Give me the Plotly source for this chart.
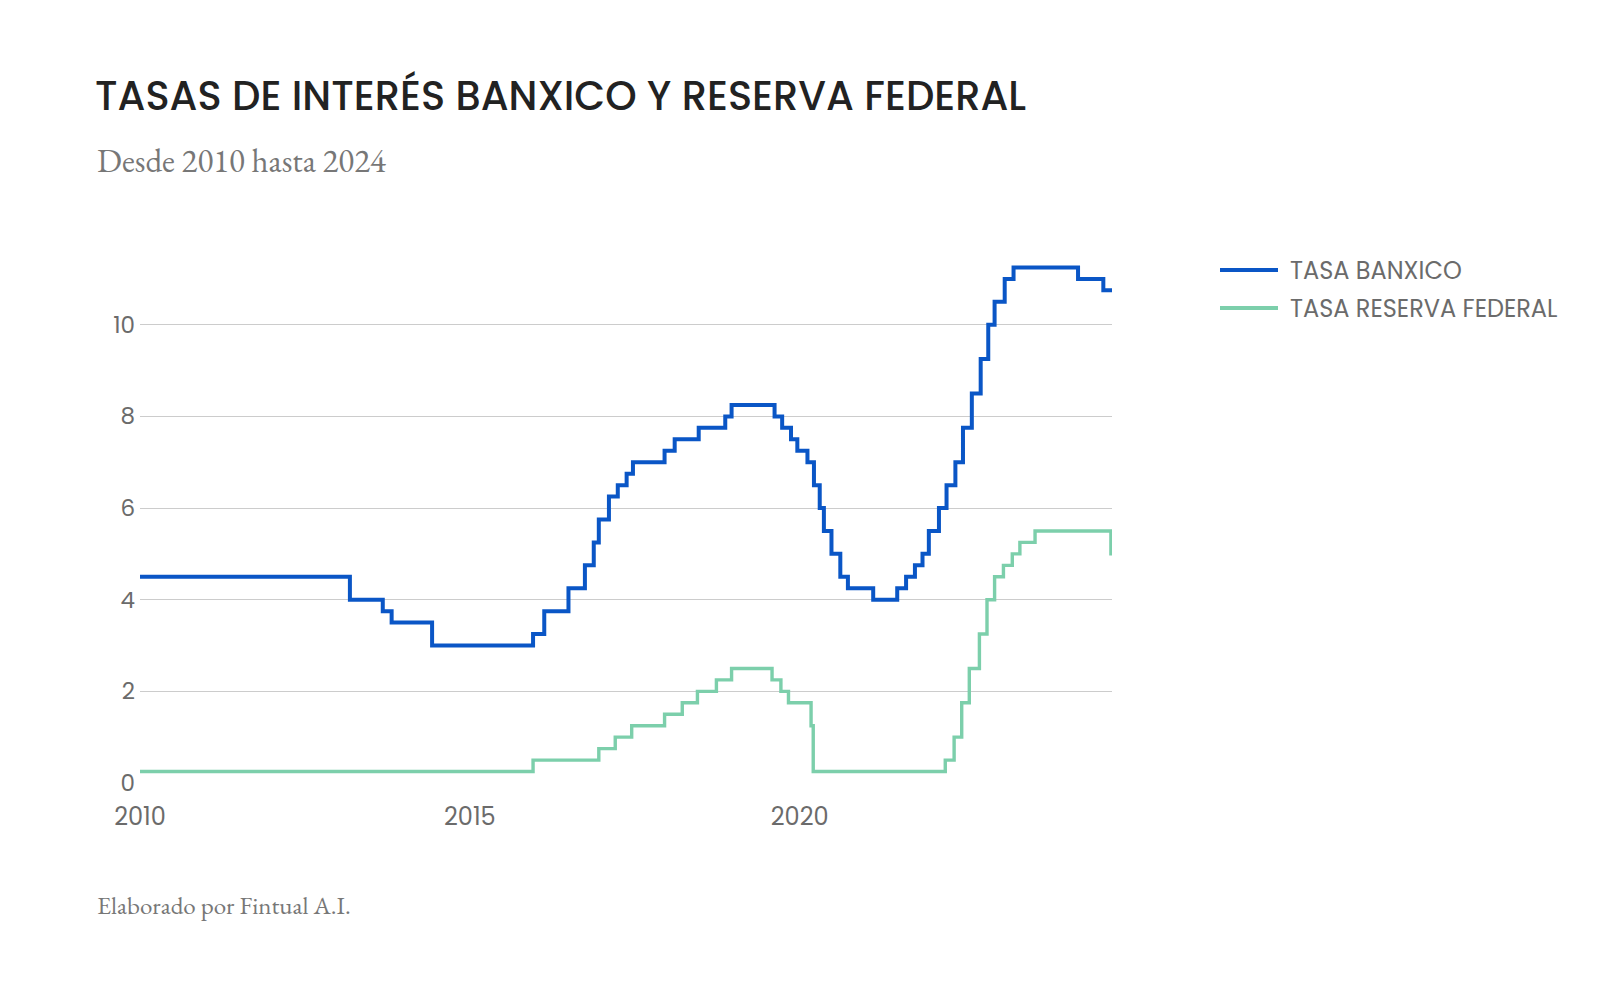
import plotly.graph_objects as go

# ---- data ----
banxico_dates = [
    "2010-01-01", "2013-03-08", "2013-09-06", "2013-10-25", "2014-06-06",
    "2015-12-17", "2016-02-17", "2016-06-30", "2016-09-29", "2016-11-17",
    "2016-12-15", "2017-02-09", "2017-03-30", "2017-05-18", "2017-06-22",
    "2017-12-14", "2018-02-08", "2018-06-21", "2018-11-15", "2018-12-20",
    "2019-08-15", "2019-09-26", "2019-11-14", "2019-12-19", "2020-02-13",
    "2020-03-20", "2020-04-21", "2020-05-14", "2020-06-25", "2020-08-13",
    "2020-09-24", "2021-02-11", "2021-06-24", "2021-08-12", "2021-09-30",
    "2021-11-11", "2021-12-16", "2022-02-10", "2022-03-24", "2022-05-12",
    "2022-06-23", "2022-08-11", "2022-09-29", "2022-11-10", "2022-12-15",
    "2023-02-09", "2023-03-30", "2024-03-21", "2024-08-08", "2024-09-25",
]
banxico_rate = [
    4.50, 4.00, 3.75, 3.50, 3.00,
    3.25, 3.75, 4.25, 4.75, 5.25,
    5.75, 6.25, 6.50, 6.75, 7.00,
    7.25, 7.50, 7.75, 8.00, 8.25,
    8.00, 7.75, 7.50, 7.25, 7.00,
    6.50, 6.00, 5.50, 5.00, 4.50,
    4.25, 4.00, 4.25, 4.50, 4.75,
    5.00, 5.50, 6.00, 6.50, 7.00,
    7.75, 8.50, 9.25, 10.00, 10.50,
    11.00, 11.25, 11.00, 10.75, 10.75,
]

fed_dates = [
    "2010-01-01", "2015-12-17", "2016-12-15", "2017-03-16", "2017-06-15",
    "2017-12-14", "2018-03-22", "2018-06-14", "2018-09-27", "2018-12-20",
    "2019-08-01", "2019-09-19", "2019-10-31", "2020-03-04", "2020-03-16",
    "2022-03-17", "2022-05-05", "2022-06-16", "2022-07-28", "2022-09-22",
    "2022-11-03", "2022-12-15", "2023-02-02", "2023-03-23", "2023-05-04",
    "2023-07-27", "2024-09-19", "2024-09-25",
]
fed_rate = [
    0.25, 0.50, 0.75, 1.00, 1.25,
    1.50, 1.75, 2.00, 2.25, 2.50,
    2.25, 2.00, 1.75, 1.25, 0.25,
    0.50, 1.00, 1.75, 2.50, 3.25,
    4.00, 4.50, 4.75, 5.00, 5.25,
    5.50, 5.00, 5.00,
]

series_names = ["TASA BANXICO", "TASA RESERVA FEDERAL"]
y_ticks = [0, 2, 4, 6, 8, 10]
x_tick_vals = ["2010-01-01", "2015-01-01", "2020-01-01"]
x_tick_text = ["2010", "2015", "2020"]

title_text = "TASAS DE INTERÉS BANXICO Y RESERVA FEDERAL"
subtitle_text = "Desde 2010 hasta 2024"
footer_text = "Elaborado por Fintual A.I."

# ---- styles ----
BLUE = "#0a56c6"
GREEN = "#7ccfab"
GRAY = "#6b6b6b"
SANS = "Poppins, Inter, 'Open Sans', sans-serif"
SERIF = "'EB Garamond', 'Liberation Serif', serif"
COLORS = [BLUE, GREEN]
WIDTHS = [4, 3.4]

W, H = 1600, 1000
L, R, T, B = 140, 488, 256, 217
PW, PH = W - L - R, H - T - B


def px_x(px):
    return (px - L) / PW


def px_y(py):
    return (H - B - py) / PH


fig = go.Figure()
fig.add_trace(go.Scatter(
    x=banxico_dates, y=banxico_rate, name=series_names[0], mode="lines",
    line=dict(color=BLUE, width=WIDTHS[0], shape="hv"),
))
fig.add_trace(go.Scatter(
    x=fed_dates, y=fed_rate, name=series_names[1], mode="lines",
    line=dict(color=GREEN, width=WIDTHS[1], shape="hv"),
))

# custom legend (long line samples like the reference)
legend_y = [270, 308]
shapes = []
annotations = []
for name, color, ly in zip(series_names, COLORS, legend_y):
    shapes.append(dict(type="line", xref="paper", yref="paper",
                       x0=px_x(1220), x1=px_x(1278), y0=px_y(ly), y1=px_y(ly),
                       line=dict(color=color, width=4)))
    annotations.append(dict(text=name, xref="paper", yref="paper",
                            x=px_x(1288), y=px_y(ly), xanchor="left",
                            yanchor="middle", showarrow=False,
                            font=dict(family=SANS, size=24, color=GRAY)))

annotations += [
    dict(text=subtitle_text, xref="paper", yref="paper",
         x=px_x(95), y=px_y(160), xanchor="left", yanchor="middle",
         showarrow=False, font=dict(family=SERIF, size=33, color="#777777")),
    dict(text=footer_text, xref="paper", yref="paper",
         x=px_x(95), y=px_y(905), xanchor="left", yanchor="middle",
         showarrow=False, font=dict(family=SERIF, size=25, color="#777777")),
]

fig.update_layout(
    width=W, height=H,
    margin=dict(l=L, r=R, t=T, b=B),
    paper_bgcolor="white", plot_bgcolor="white",
    font=dict(family=SANS, color=GRAY, size=24),
    title=dict(
        text=title_text, xref="container", yref="container",
        x=95 / W, xanchor="left", y=1 - 96 / H, yanchor="middle",
        font=dict(family=SANS, size=40, color="#222222", weight=500),
    ),
    showlegend=False,
    xaxis=dict(
        type="date", range=["2010-01-01", "2024-09-25"],
        tickvals=x_tick_vals, ticktext=x_tick_text,
        showgrid=False, zeroline=False, showline=False, ticks="",
        ticklabelstandoff=17,
        tickfont=dict(family=SANS, size=24, color=GRAY),
    ),
    yaxis=dict(
        range=[0, 11.5], tickvals=y_ticks,
        showgrid=True, gridcolor="#cccccc", gridwidth=1,
        zeroline=False, showline=False, ticks="",
        ticklabelstandoff=4,
        tickfont=dict(family=SANS, size=23, color=GRAY),
    ),
    shapes=shapes,
    annotations=annotations,
)

fig.write_html("out.html", config={"displayModeBar": False},
               post_script="document.body.style.margin='0';")
